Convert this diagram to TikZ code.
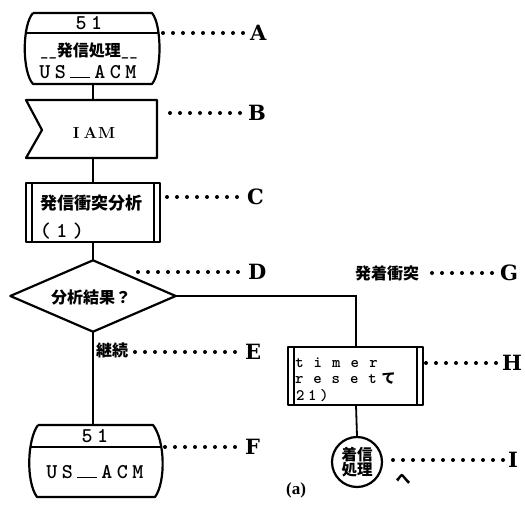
\documentclass[tikz,border=0pt]{standalone}
\usepackage{fontspec}
\newfontfamily\jp{Noto Sans CJK JP}
\newfontfamily\tagfont{DejaVu Serif}
\newfontfamily\capfont{Liberation Serif}
\newfontfamily\tyw{lmmonolt10-bold.otf}
% each character in a box of fixed width (typewriter pitch)
\newcommand\spacedtxt[2]{\def\spw{#1}\spacedstep#2\relax}
\def\spacedstep#1{\ifx#1\relax\else\makebox[\spw][c]{#1}\expandafter\spacedstep\fi}
\newcommand\usbar{\makebox[24pt][c]{\rule{20pt}{1.8pt}}}
\tikzset{
  outline/.style={line width=2.2pt, line join=round},
  conn/.style={line width=1.8pt},
  leader/.style={line width=4pt, line cap=round, dash pattern=on 0pt off 10pt},
  tag/.style={font=\fontsize{21}{21}\selectfont\tagfont\bfseries, inner sep=0pt, anchor=west},
  hole/.style={inner sep=0pt, draw=none, rectangle},
  mono/.style={font=\fontsize{21}{21}\selectfont\tyw, inner sep=0pt},
  monosm/.style={font=\fontsize{16}{16.5}\selectfont\tyw, inner sep=0pt, align=left},
  jptxt/.style={font=\fontsize{16}{16}\selectfont\jp\bfseries, inner sep=0pt},
}
\begin{document}
\begin{tikzpicture}[x=1pt,y=-1pt]
\useasboundingbox (0,0) rectangle (525,518);

% ---------- A : terminal ----------
\node[hole, minimum width=134pt, minimum height=71pt] (A) at (93,48.5) {};
\draw[outline] (33,13) -- (152,13) .. controls (162,25) and (162,72) .. (152,84)
   -- (33,84) .. controls (22,72) and (22,25) .. (33,13);
\begin{scope}
  \clip (33,13) -- (152,13) .. controls (162,25) and (162,72) .. (152,84)
   -- (33,84) .. controls (22,72) and (22,25) .. (33,13);
  \draw[outline] (15,33) -- (175,33);
\end{scope}
\node[mono] (A1) at (89,23.5) {\spacedtxt{15.5pt}{51}};
\node[jptxt] (A2) at (89,51) {{\tyw\_\_}発信処理{\tyw\_\_}};
\node[mono] (A3) at (88,72) {\spacedtxt{15.5pt}{US}\usbar\spacedtxt{15.5pt}{ACM}};

% ---------- B : signal ----------
\node[hole, minimum width=131pt, minimum height=58pt] (B) at (93,129) {};
\draw[outline] (26,100) -- (157,100) -- (157,158) -- (26,158) -- (42,130) -- cycle;
\node[font=\fontsize{16}{16}\selectfont\bfseries, inner sep=0pt] (B1) at (94,133) {I\hspace{4pt}A\hspace{1pt}M};

% ---------- C : predefined process ----------
\node[hole, minimum width=134pt, minimum height=59pt] (C) at (93,212.5) {};
\draw[outline] (26,183) rectangle (160,242);
\draw[outline] (32,183) -- (32,242);
\draw[outline] (154,183) -- (154,242);
\node[font=\fontsize{17}{17}\selectfont\jp\bfseries, inner sep=0pt, anchor=west] (C1) at (40,203) {発信衝突分析};
\node[mono, anchor=west] (C2) at (37,231) {\spacedtxt{16.5pt}{(1)}};

% ---------- D : decision ----------
\node[hole, minimum width=165pt, minimum height=71pt] (D) at (93,296) {};
\draw[outline] (D.north) -- (D.east) -- (D.south) -- (D.west) -- cycle;
\node[jptxt] (D1) at (91,297) {分析結果？};

% ---------- F : terminal ----------
\node[hole, minimum width=135pt, minimum height=72pt] (F) at (93,461) {};
\draw[outline] (38,425) -- (153,425) .. controls (165,440) and (166,482) .. (155,497)
   -- (37,497) .. controls (26,482) and (27,440) .. (38,425);
\begin{scope}
  \clip (38,425) -- (153,425) .. controls (165,440) and (166,482) .. (155,497)
   -- (37,497) .. controls (26,482) and (27,440) .. (38,425);
  \draw[outline] (15,447) -- (180,447);
\end{scope}
\node[mono] (F1) at (95,436.5) {\spacedtxt{15.5pt}{51}};
\node[mono] (F2) at (95,472) {\spacedtxt{15.5pt}{US}\usbar\spacedtxt{15.5pt}{ACM}};

% ---------- H : predefined process ----------
\node[hole, minimum width=136pt, minimum height=58pt] (H) at (356,376) {};
\draw[outline] (288,347) rectangle (423,405);
\draw[outline] (294,347) -- (294,405);
\draw[outline] (417,347) -- (417,405);
\node[monosm, anchor=north west] (H1) at (290,357.5)
  {\spacedtxt{18.5pt}{timer}\\\spacedtxt{18.3pt}{reset}{\fontsize{14}{14}\selectfont\jp\bfseries て}\\\hspace{4pt}\spacedtxt{12pt}{21)}};

% ---------- I : connector circle ----------
\node[draw, circle, outline, minimum size=50pt, inner sep=0pt, align=center,
      font=\fontsize{15.5}{15}\selectfont\jp\bfseries] (I) at (357,462) {着信\\処理};
\node[font=\fontsize{15}{15}\selectfont\jp\bfseries, inner sep=0pt] (he) at (403,479) {へ};

% ---------- connectors ----------
\draw[conn] (A.south) -- (B.north);
\draw[conn] (B.south) -- (C.north);
\draw[conn] (C.south) -- (D.north);
\draw[conn] (D.south) -- (F.north);
\draw[conn] (D.east) -| (H.north);
\draw[conn] (H.south) -- (I.north);

% ---------- side texts ----------
\node[jptxt] (E0) at (112,350) {継続};
\node[jptxt] (G0) at (387,273) {発着衝突};

% ---------- leaders and tags ----------
\node[tag] (lA) at (250,33) {A};
\node[tag] (lB) at (248,113) {B};
\node[tag] (lC) at (247,197) {C};
\node[tag] (lD) at (248,272) {D};
\node[tag] (lE) at (245,352) {E};
\node[tag] (lF) at (245,447) {F};
\node[tag] (lG) at (500,273) {G};
\node[tag] (lH) at (502,363) {H};
\node[tag] (lI) at (508,460) {I};

\coordinate (sA) at (163,33);
\coordinate (sB) at (170,113);
\coordinate (sC) at (167,197);
\coordinate (sD) at (138,272);
\coordinate (sE) at (135,352);
\coordinate (sF) at (165,447);
\coordinate (sG) at (432,273);
\coordinate (sH) at (426,363);
\coordinate (sI) at (393,460);

\draw[leader] (sA) -- ([xshift=-3pt]lA.west);
\draw[leader] (sB) -- ([xshift=-3pt]lB.west);
\draw[leader] (sC) -- ([xshift=-3pt]lC.west);
\draw[leader] (sD) -- ([xshift=-3pt]lD.west);
\draw[leader] (sE) -- ([xshift=-3pt]lE.west);
\draw[leader] (sF) -- ([xshift=-3pt]lF.west);
\draw[leader] (sG) -- ([xshift=-3pt]lG.west);
\draw[leader] (sH) -- ([xshift=-3pt]lH.west);
\draw[leader] (sI) -- ([xshift=-3pt]lI.west);

% ---------- caption ----------
\node[font=\fontsize{17}{17}\selectfont\capfont\bfseries, inner sep=0pt] (cap) at (296,490) {(a)};
\end{tikzpicture}
\end{document}
